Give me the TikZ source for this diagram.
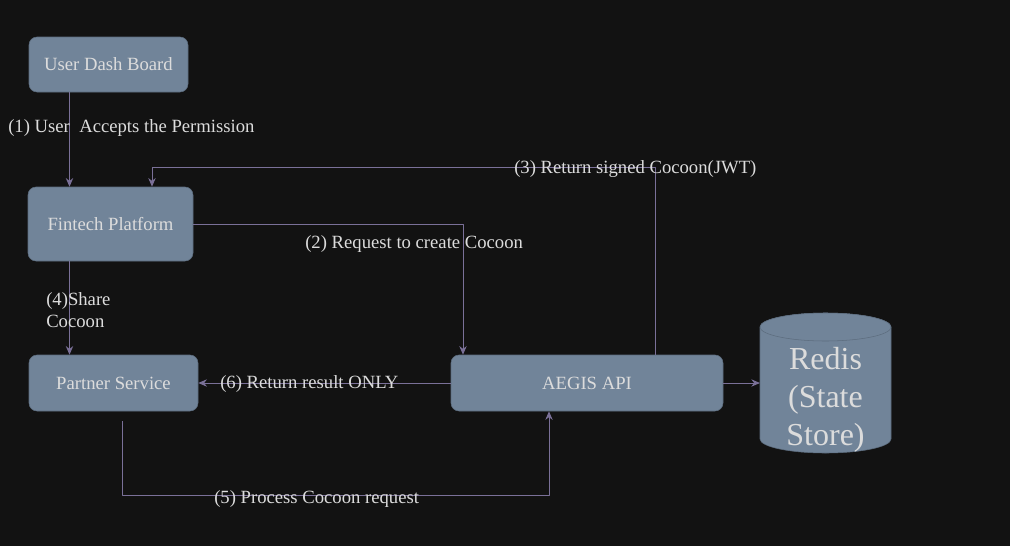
\documentclass[tikz,border=0pt]{standalone}
\usepackage{fontspec}
\setmainfont{Liberation Serif}
\usepackage{tikz}
\usetikzlibrary{arrows.meta}
\usepackage{xcolor}

\definecolor{bgdark}{HTML}{121212}
\definecolor{boxfill}{HTML}{718499}
\definecolor{boxline}{HTML}{5C6C7E}
\definecolor{flowline}{HTML}{7A7098}
\definecolor{labeltext}{HTML}{DCDCDC}

\tikzset{
    svcbox/.style={draw=boxline, fill=boxfill, rounded corners=6pt, inner sep=0pt,
        text=labeltext, font=\fontsize{14}{16}\selectfont},
    flow/.style={draw=flowline, line width=0.75pt, -{Stealth[length=6.5pt, width=5.5pt]}},
    flowlabel/.style={text=labeltext, inner sep=0pt, font=\fontsize{14}{16.5}\selectfont}
}

\begin{document}
\begin{tikzpicture}[x=0.75pt, y=-0.75pt, line join=round]

    % canvas 1010 x 546 px, y grows downwards
    \fill[bgdark] (0,0) rectangle (1010,546);
    \useasboundingbox (0,0) rectangle (1010,546);

    % Boxes
    \node[svcbox, minimum width=119.25pt, minimum height=41.25pt] (dash) at (108.5, 64.5) {User Dash Board};
    \node[svcbox, minimum width=123.75pt, minimum height=55.5pt] (fintech) at (110.5, 224) {Fintech Platform};
    \node[svcbox, minimum width=126.75pt, minimum height=42pt] (partner) at (113.5, 383) {Partner Service};
    \node[svcbox, minimum width=204pt, minimum height=42pt] (aegis) at (587, 383) {AEGIS API};

    % Redis cylinder: centre x=825.5, rx=65.5, ry=14
    \fill[boxfill, draw=boxline] (760,327) -- (760,439) arc[start angle=180, end angle=360, x radius=65.5, y radius=-14]
        -- (891,327) arc[start angle=0, end angle=180, x radius=65.5, y radius=-14] -- cycle;
    \draw[boxline, fill=boxfill] (825.5,327) ellipse[x radius=65.5, y radius=14];
    \node[text=labeltext, align=center, inner sep=0pt, font=\fontsize{24}{28.5}\selectfont] (redis) at (825.5, 399.5) {Redis\\(State\\Store)};
    \coordinate (redisW) at (760, 383);

    % Helper coordinates for the elbows
    \coordinate (c1) at (69.5, 0);
    \coordinate (c3a) at (655, 167);
    \coordinate (c3b) at (152, 167);
    \coordinate (c2) at (463, 224);
    \coordinate (c5a) at (122, 421);
    \coordinate (c5b) at (549, 495);

    % (1) dashboard -> fintech
    \draw[flow] (dash.south -| c1) -- (fintech.north -| c1);
    % (2) fintech -> aegis
    \draw[flow] (fintech.east) -- (c2) -- (aegis.north -| c2);
    % (3) aegis -> fintech
    \draw[flow] (aegis.north -| c3a) -- (c3a) -- (c3b) -- (fintech.north -| c3b);
    % (4) fintech -> partner
    \draw[flow] (fintech.south -| c1) -- (partner.north -| c1);
    % (5) partner -> aegis
    \draw[flow] (c5a) |- (c5b) -- (aegis.south -| c5b);
    % (6) aegis -> partner
    \draw[flow] (aegis.west) -- (partner.east);
    % aegis -> redis
    \draw[flow] (aegis.east) -- (redisW);

    % Labels
    \node[flowlabel, anchor=west] (l1) at (8, 128) {(1) User\ \ Accepts the Permission};
    \node[flowlabel, anchor=west] (l2) at (305, 244) {(2) Request to create Cocoon};
    \node[flowlabel, anchor=west] (l3) at (514, 169) {(3) Return signed Cocoon(JWT)};
    \node[flowlabel, anchor=west, align=left] (l4) at (46, 310) {(4)Share\\Cocoon};
    \node[flowlabel, anchor=west] (l5) at (214, 499) {(5) Process Cocoon request};
    \node[flowlabel, anchor=west] (l6) at (220, 384) {(6) Return result ONLY};

\end{tikzpicture}
\end{document}
